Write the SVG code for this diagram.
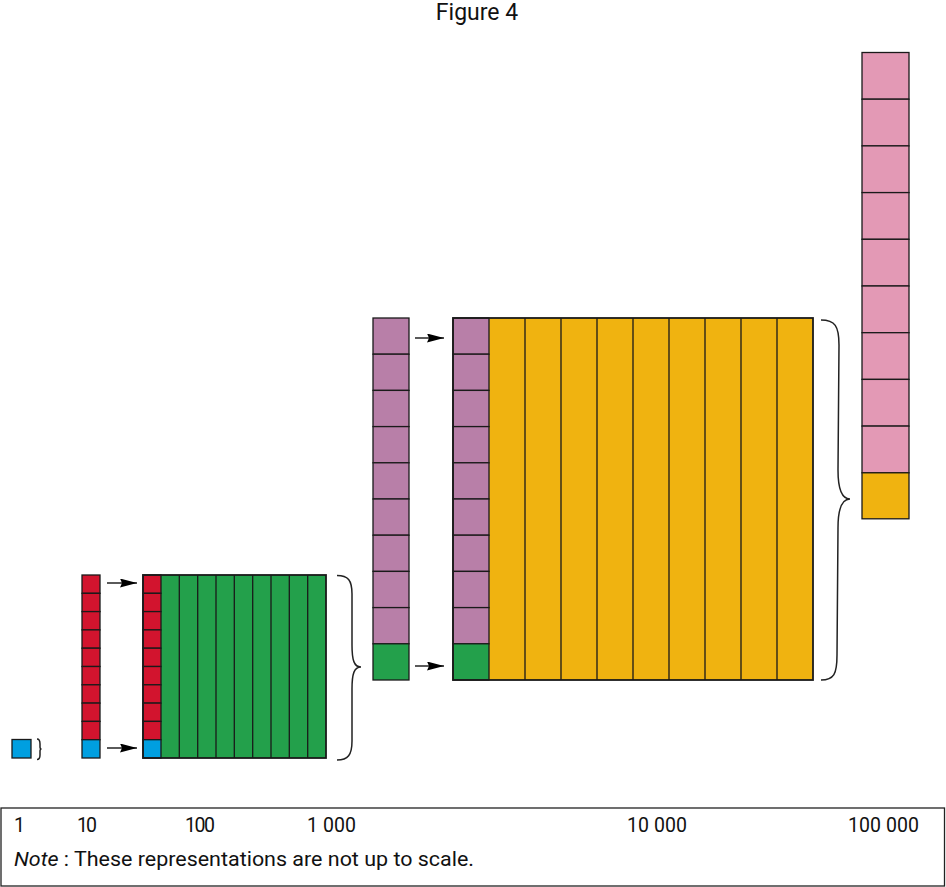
<svg xmlns="http://www.w3.org/2000/svg" width="946" height="887" viewBox="0 0 946 887">
<defs>
<style>
.cell{stroke:#1a1a1a;stroke-width:1.3}
.blue{fill:#009fe0}.red{fill:#d2142e}.green{fill:#23a04b}.purple{fill:#b87fa8}.yellow{fill:#f0b310}.pink{fill:#e399b5}
.outline{fill:none;stroke:#1a1a1a;stroke-width:1.8}
.vl{stroke:#1a1a1a;stroke-width:1.3}
.brace{fill:none;stroke:#222;stroke-width:1.5}
.arrow{stroke:#000;stroke-width:1.3;marker-end:url(#ah)}
text{font-family:Roboto,"Liberation Sans",sans-serif;fill:#111}
.lbl{font-size:19.5px}
</style>
<marker id="ah" viewBox="0 0 17 9" refX="17" refY="4.5" markerWidth="17" markerHeight="9" markerUnits="userSpaceOnUse" orient="auto">
<path d="M0,0 L17,4.5 L0,9 L2,4.5 Z" fill="#000"/>
</marker>
</defs>
<rect width="946" height="887" fill="#fff"/>
<text x="477" y="20" font-size="23" text-anchor="middle">Figure 4</text>

<g id="one">
<rect class="cell blue" x="12" y="739.5" width="19" height="18.5"/>
<path class="brace" d="M37,739 C39.5,739 40,741 40,744 L40,747 C40,748.5 40.5,749 41.5,749 C40.5,749 40,749.5 40,751 L40,755 C40,758 39.5,759.5 37,759.5" stroke-width="1"/>
</g>

<g id="ten">
<rect class="cell red" x="82" y="575" width="18" height="18.3"/>
<rect class="cell red" x="82" y="593.3" width="18" height="18.3"/>
<rect class="cell red" x="82" y="611.6" width="18" height="18.3"/>
<rect class="cell red" x="82" y="629.9" width="18" height="18.3"/>
<rect class="cell red" x="82" y="648.2" width="18" height="18.3"/>
<rect class="cell red" x="82" y="666.5" width="18" height="18.3"/>
<rect class="cell red" x="82" y="684.8" width="18" height="18.3"/>
<rect class="cell red" x="82" y="703.1" width="18" height="18.3"/>
<rect class="cell red" x="82" y="721.4" width="18" height="18.3"/>
<rect class="cell blue" x="82" y="739.7" width="18" height="18.3"/>
</g>

<g id="hundred">
<rect class="green" x="143" y="575" width="183" height="183"/>
<rect class="cell red" x="143" y="575" width="18" height="18.3"/>
<rect class="cell red" x="143" y="593.3" width="18" height="18.3"/>
<rect class="cell red" x="143" y="611.6" width="18" height="18.3"/>
<rect class="cell red" x="143" y="629.9" width="18" height="18.3"/>
<rect class="cell red" x="143" y="648.2" width="18" height="18.3"/>
<rect class="cell red" x="143" y="666.5" width="18" height="18.3"/>
<rect class="cell red" x="143" y="684.8" width="18" height="18.3"/>
<rect class="cell red" x="143" y="703.1" width="18" height="18.3"/>
<rect class="cell red" x="143" y="721.4" width="18" height="18.3"/>
<rect class="cell blue" x="143" y="739.7" width="18" height="18.3"/>
<g class="vl">
<line x1="179.3" y1="575" x2="179.3" y2="758"/>
<line x1="197.7" y1="575" x2="197.7" y2="758"/>
<line x1="216" y1="575" x2="216" y2="758"/>
<line x1="234.3" y1="575" x2="234.3" y2="758"/>
<line x1="252.7" y1="575" x2="252.7" y2="758"/>
<line x1="271" y1="575" x2="271" y2="758"/>
<line x1="289.3" y1="575" x2="289.3" y2="758"/>
<line x1="307.7" y1="575" x2="307.7" y2="758"/>
</g>
<rect class="outline" x="143" y="575" width="183" height="183"/>
<path class="brace" d="M337,575.5 C348,575.5 352,580 352,594 L352,645 C352,660 354,667 361,667 C354,667 352,674 352,689 L352,741 C352,755 348,760 337,760"/>
</g>

<g id="thousand-column">
<rect class="cell purple" x="373" y="318" width="36" height="36.2"/>
<rect class="cell purple" x="373" y="354.2" width="36" height="36.2"/>
<rect class="cell purple" x="373" y="390.4" width="36" height="36.2"/>
<rect class="cell purple" x="373" y="426.6" width="36" height="36.2"/>
<rect class="cell purple" x="373" y="462.8" width="36" height="36.2"/>
<rect class="cell purple" x="373" y="499" width="36" height="36.2"/>
<rect class="cell purple" x="373" y="535.2" width="36" height="36.2"/>
<rect class="cell purple" x="373" y="571.4" width="36" height="36.2"/>
<rect class="cell purple" x="373" y="607.6" width="36" height="36.2"/>
<rect class="cell green" x="373" y="643.8" width="36" height="36.2"/>
</g>

<g id="ten-thousand">
<rect class="yellow" x="453" y="318" width="360" height="362"/>
<rect class="cell purple" x="453" y="318" width="36" height="36.2"/>
<rect class="cell purple" x="453" y="354.2" width="36" height="36.2"/>
<rect class="cell purple" x="453" y="390.4" width="36" height="36.2"/>
<rect class="cell purple" x="453" y="426.6" width="36" height="36.2"/>
<rect class="cell purple" x="453" y="462.8" width="36" height="36.2"/>
<rect class="cell purple" x="453" y="499" width="36" height="36.2"/>
<rect class="cell purple" x="453" y="535.2" width="36" height="36.2"/>
<rect class="cell purple" x="453" y="571.4" width="36" height="36.2"/>
<rect class="cell purple" x="453" y="607.6" width="36" height="36.2"/>
<rect class="cell green" x="453" y="643.8" width="36" height="36.2"/>
<g class="vl">
<line x1="525" y1="318" x2="525" y2="680"/>
<line x1="561" y1="318" x2="561" y2="680"/>
<line x1="597" y1="318" x2="597" y2="680"/>
<line x1="633" y1="318" x2="633" y2="680"/>
<line x1="669" y1="318" x2="669" y2="680"/>
<line x1="705" y1="318" x2="705" y2="680"/>
<line x1="741" y1="318" x2="741" y2="680"/>
<line x1="777" y1="318" x2="777" y2="680"/>
</g>
<rect class="outline" x="453" y="318" width="360" height="362"/>
<path class="brace" d="M821,320 C835,320 839,326 839,345 L838,470 C838,490 842,499 850,499 C842,499 838,508 838,528 L837,655 C837,674 834,680 821,680"/>
</g>

<g id="hundred-thousand">
<rect class="cell pink" x="862" y="52.5" width="47" height="46.7"/>
<rect class="cell pink" x="862" y="99.2" width="47" height="46.7"/>
<rect class="cell pink" x="862" y="145.9" width="47" height="46.7"/>
<rect class="cell pink" x="862" y="192.6" width="47" height="46.7"/>
<rect class="cell pink" x="862" y="239.3" width="47" height="46.7"/>
<rect class="cell pink" x="862" y="286" width="47" height="46.7"/>
<rect class="cell pink" x="862" y="332.7" width="47" height="46.7"/>
<rect class="cell pink" x="862" y="379.4" width="47" height="46.7"/>
<rect class="cell pink" x="862" y="426.1" width="47" height="46.7"/>
<rect class="cell yellow" x="862" y="472.8" width="47" height="46"/>
</g>

<g id="connectors">
<line class="arrow" x1="107" y1="583" x2="137" y2="583"/>
<line class="arrow" x1="107" y1="748" x2="137" y2="748"/>
<line class="arrow" x1="415" y1="338" x2="444" y2="338"/>
<line class="arrow" x1="415" y1="666" x2="444" y2="666"/>
</g>

<g id="legend">
<rect x="1" y="808" width="943.5" height="78" fill="none" stroke="#222" stroke-width="1.3"/>
<text class="lbl" x="14" y="832">1</text>
<text class="lbl" x="77" y="832" textLength="20" lengthAdjust="spacing">10</text>
<text class="lbl" x="185" y="832" textLength="30" lengthAdjust="spacing">100</text>
<text class="lbl" x="307" y="832" textLength="49" lengthAdjust="spacing">1 000</text>
<text class="lbl" x="627" y="832" textLength="60" lengthAdjust="spacing">10 000</text>
<text class="lbl" x="848" y="832" textLength="71" lengthAdjust="spacing">100 000</text>
<text x="14" y="866" font-size="20.5" textLength="460" lengthAdjust="spacingAndGlyphs"><tspan font-style="italic">Note</tspan> : These representations are not up to scale.</text>
</g>
</svg>
